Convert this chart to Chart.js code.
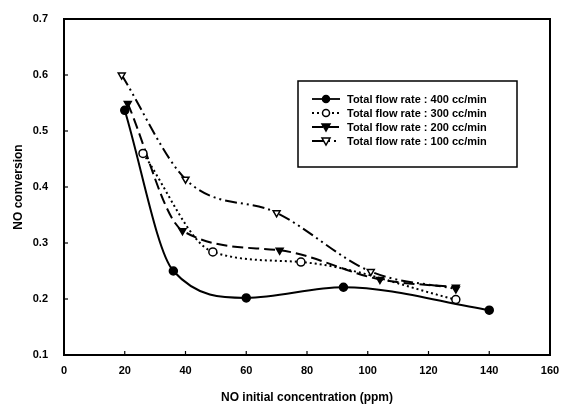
<!DOCTYPE html>
<html>
<head>
<meta charset="utf-8">
<script src="https://cdn.jsdelivr.net/npm/chart.js@4.4.1/dist/chart.umd.min.js"></script>
<style>
  html, body { margin: 0; padding: 0; background: #fff; }
  #wrap { width: 566px; height: 409px; }
</style>
</head>
<body>
<div id="wrap"><canvas id="chart" width="566" height="409"></canvas></div>
<script>
// NO initial concentration (ppm) / NO conversion
var x400 = [20, 36, 60, 92, 140];
var y400 = [0.537, 0.25, 0.202, 0.221, 0.18];
var x300 = [26, 49, 78, 129];
var y300 = [0.46, 0.284, 0.266, 0.199];
var x200 = [21, 39, 71, 104, 129];
var y200 = [0.549, 0.322, 0.287, 0.235, 0.221];
var x100 = [19, 40, 70, 101, 129];
var y100 = [0.60, 0.414, 0.354, 0.249, 0.218];

var labels = [
    'Total flow rate : 400 cc/min',
    'Total flow rate : 300 cc/min',
    'Total flow rate : 200 cc/min',
    'Total flow rate : 100 cc/min'
];
var xTicks = [0, 20, 40, 60, 80, 100, 120, 140, 160];
var yTicks = [0.1, 0.2, 0.3, 0.4, 0.5, 0.6, 0.7];

function pts(xs, ys) {
    return xs.map(function (x, i) { return { x: x, y: ys[i] }; });
}

const FONT = 'Liberation Sans, Arial, sans-serif';

/*------------------------------- frame, inward ticks, legend -------------------------------*/
const framePlugin = {
    id: 'frame',
    afterDraw(chart) {
        const ctx = chart.ctx;
        const a = chart.chartArea;
        const sx = chart.scales.x, sy = chart.scales.y;
        ctx.save();
        ctx.strokeStyle = '#000';
        ctx.lineWidth = 2;
        ctx.strokeRect(a.left, a.top, a.right - a.left, a.bottom - a.top);
        ctx.lineWidth = 1.2;
        xTicks.forEach(function (v) {
            const p = sx.getPixelForValue(v);
            ctx.beginPath(); ctx.moveTo(p, a.bottom); ctx.lineTo(p, a.bottom - 4); ctx.stroke();
        });
        yTicks.forEach(function (v) {
            const p = sy.getPixelForValue(v);
            ctx.beginPath(); ctx.moveTo(a.left, p); ctx.lineTo(a.left + 4, p); ctx.stroke();
        });

        // legend box
        const bx = 298, by = 81, bw = 219, bh = 86;
        ctx.lineWidth = 1.5;
        ctx.strokeRect(bx, by, bw, bh);
        const rows = [99, 113, 127, 141];
        chart.data.datasets.forEach(function (ds, i) {
            const y = rows[i];
            ctx.save();
            ctx.lineWidth = 1.8;
            ctx.setLineDash(ds.borderDash || []);
            ctx.beginPath(); ctx.moveTo(312, y); ctx.lineTo(340, y); ctx.stroke();
            ctx.restore();
            drawMarker(ctx, ds, 326, y);
            ctx.fillStyle = '#000';
            ctx.font = 'bold 11px ' + FONT;
            ctx.textBaseline = 'middle';
            ctx.fillText(ds.label, 347, y + 1);
        });
        ctx.restore();
    }
};

function drawMarker(ctx, ds, x, y) {
    ctx.save();
    ctx.lineWidth = 1.5;
    ctx.strokeStyle = '#000';
    ctx.fillStyle = ds.pointBackgroundColor;
    ctx.setLineDash([]);
    ctx.beginPath();
    if (ds.pointStyle === 'circle') {
        ctx.arc(x, y, 3.5, 0, Math.PI * 2);
    } else {
        ctx.moveTo(x - 4, y - 3); ctx.lineTo(x + 4, y - 3); ctx.lineTo(x, y + 4); ctx.closePath();
    }
    ctx.fill(); ctx.stroke();
    ctx.restore();
}

function series(label, data, dash, style, fill, rot) {
    return {
        label: label,
        data: data,
        borderColor: '#000',
        borderWidth: 2,
        borderDash: dash,
        pointStyle: style,
        pointRotation: rot,
        pointRadius: 4,
        pointBorderWidth: 1.5,
        pointBorderColor: '#000',
        pointBackgroundColor: fill,
        showLine: true,
        tension: 0.4,
        cubicInterpolationMode: 'monotone',
        fill: false
    };
}

new Chart(document.getElementById('chart'), {
    type: 'scatter',
    data: {
        datasets: [
            series(labels[0], pts(x400, y400), [], 'circle', '#000', 0),
            series(labels[1], pts(x300, y300), [2, 3], 'circle', '#fff', 0),
            series(labels[2], pts(x200, y200), [11, 5], 'triangle', '#000', 180),
            series(labels[3], pts(x100, y100), [12, 4, 2, 4, 2, 4], 'triangle', '#fff', 180)
        ]
    },
    options: {
        responsive: false,
        animation: false,
        layout: { padding: { top: 19, right: 16, left: 0, bottom: 0 } },
        plugins: { legend: { display: false }, tooltip: { enabled: false } },
        scales: {
            x: {
                type: 'linear', min: 0, max: 160,
                afterBuildTicks: function (s) { s.ticks = xTicks.map(function (v) { return { value: v }; }); },
                afterFit: function (s) { s.height = 54; },
                grid: { display: false },
                border: { display: false },
                ticks: { color: '#000', font: { family: FONT, size: 11, weight: 'bold' }, padding: 1, maxRotation: 0 },
                title: { display: true, text: 'NO initial concentration (ppm)', color: '#000', font: { family: FONT, size: 12, weight: 'bold' }, padding: { top: 8 } }
            },
            y: {
                type: 'linear', min: 0.1, max: 0.7,
                afterBuildTicks: function (s) { s.ticks = yTicks.map(function (v) { return { value: v }; }); },
                afterFit: function (s) { s.width = 64; },
                grid: { display: false },
                border: { display: false },
                ticks: { color: '#000', font: { family: FONT, size: 11, weight: 'bold' }, padding: 8, callback: function (v) { return v.toFixed(1); } },
                title: { display: true, text: 'NO conversion', color: '#000', font: { family: FONT, size: 12, weight: 'bold' }, padding: { top: 11, bottom: 0 } }
            }
        }
    },
    plugins: [framePlugin]
});
</script>
</body>
</html>
